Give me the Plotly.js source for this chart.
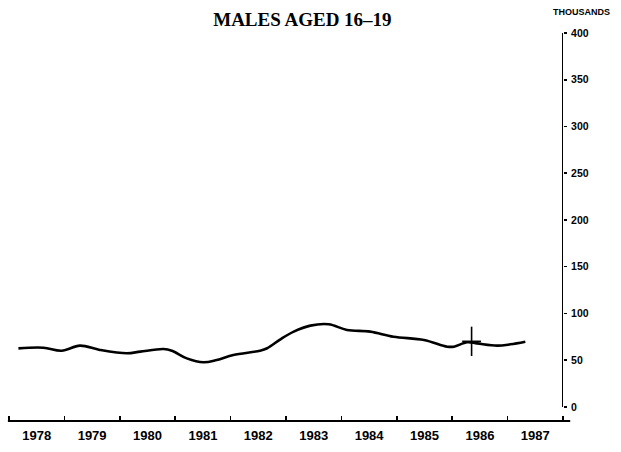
<!DOCTYPE html>
<html>
<head>
<meta charset="utf-8">
<script src="https://cdn.plot.ly/plotly-3.0.1.min.js"></script>
<style>html,body{margin:0;padding:0;background:#fff;}#chart{width:621px;height:452px;}</style>
</head>
<body>
<div id="chart"></div>
<script>
// Data
const years = [1978.17, 1978.62, 1978.95, 1979.28, 1979.64, 1980.13, 1980.37, 1980.79, 1980.94, 1981.21, 1981.51, 1981.75, 1982.05, 1982.53, 1982.66, 1982.90, 1983.14, 1983.44, 1983.77, 1984.10, 1984.52, 1984.94, 1985.49, 1985.91, 1986.03, 1986.27, 1986.45, 1986.81, 1987.05, 1987.32];
const values = [62.7, 63.4, 60.2, 65.6, 61.0, 57.4, 59.2, 62.0, 60.2, 52.0, 47.8, 50.3, 55.6, 60.2, 62.8, 72.4, 80.6, 87.0, 88.4, 82.4, 80.6, 75.2, 71.7, 64.5, 64.5, 69.2, 68.0, 65.6, 67.0, 69.8];
const crossYear = [1986.35];
const crossValue = [70.2];
const crossHalfHeight = [15.7];
const crossHalfWidth = [0.17];
const yearLabels = ['1978','1979','1980','1981','1982','1983','1984','1985','1986','1987'];
const yearStarts = [1978,1979,1980,1981,1982,1983,1984,1985,1986,1987,1988];
const yTicks = [0,50,100,150,200,250,300,350,400];

const yearMids = yearLabels.map(l => Number(l) + 0.5);

const traces = [
  {x: years, y: values, type: 'scatter', mode: 'lines',
   line: {color: '#000', width: 2.6, shape: 'spline', smoothing: 1}, hoverinfo: 'none'},
  {x: crossYear, y: crossValue, type: 'scatter', mode: 'markers',
   marker: {size: 1, color: '#000'},
   error_y: {type: 'data', array: crossHalfHeight, visible: true, width: 0, thickness: 1.6, color: '#000'},
   error_x: {type: 'data', array: crossHalfWidth, visible: true, width: 0, thickness: 1.6, color: '#000'},
   hoverinfo: 'none'}
];

const layout = {
  width: 621, height: 452,
  margin: {l: 9, r: 58, t: 33, b: 31},
  paper_bgcolor: '#fff', plot_bgcolor: '#fff',
  showlegend: false,
  title: {text: 'MALES AGED 16–19', x: 0.487, xanchor: 'center', y: 0.958, yanchor: 'middle',
          font: {family: 'Liberation Serif', size: 19, color: '#000', weight: 'bold'}},
  xaxis: {range: [1978, 1988], showgrid: false, zeroline: false, showline: false,
          tickmode: 'array', tickvals: yearMids, ticktext: yearLabels, ticks: '', ticklabelstandoff: 5,
          tickfont: {family: 'Liberation Sans', size: 13, color: '#000', weight: 'bold'},
          minor: {tickmode: 'array', tickvals: yearStarts, ticks: 'inside', ticklen: 5, tickwidth: 1.6, tickcolor: '#000', showgrid: false}},
  yaxis: {range: [-15, 400], side: 'right', showgrid: false, zeroline: false, showline: false,
          tickmode: 'array', tickvals: yTicks, ticks: 'outside', ticklen: 3, tickwidth: 1.5, tickcolor: '#000',
          ticklabelstandoff: 2,
          tickfont: {family: 'Liberation Sans', size: 10.5, color: '#000', weight: 'bold'}},
  shapes: [
    {type: 'line', xref: 'x', yref: 'y', x0: 1988, x1: 1988, y0: 0, y1: 400, line: {color: '#000', width: 2}},
    {type: 'line', xref: 'paper', yref: 'paper', x0: -0.002, x1: 1.013, y0: 0, y1: 0, line: {color: '#000', width: 2}}
  ],
  annotations: [
    {text: 'THOUSANDS', xref: 'paper', yref: 'paper', x: 1.034, y: 1.053, xanchor: 'center', yanchor: 'middle',
     showarrow: false, font: {family: 'Liberation Sans', size: 9, color: '#000', weight: 'bold'}}
  ]
};

Plotly.newPlot('chart', traces, layout, {displayModeBar: false, staticPlot: true});
</script>
</body>
</html>
